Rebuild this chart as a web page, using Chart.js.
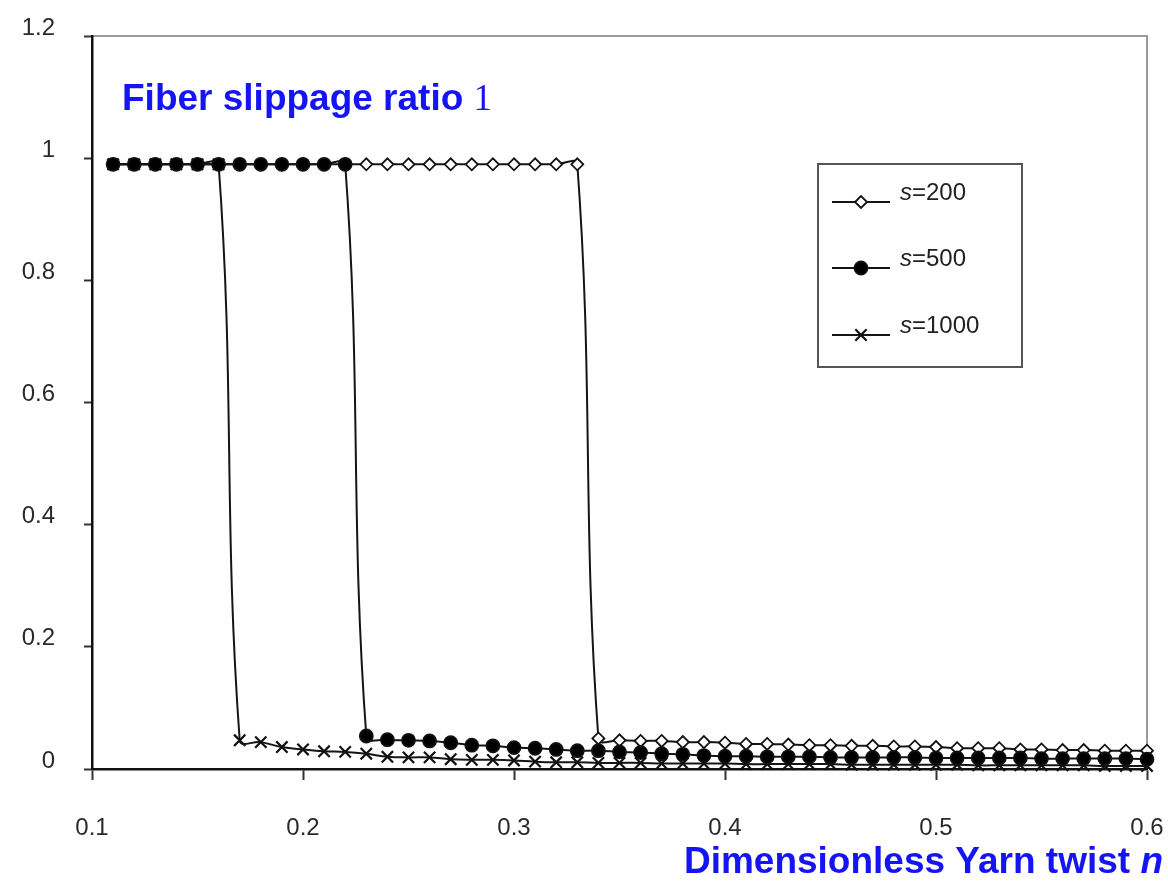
<!DOCTYPE html>
<html>
<head>
<meta charset="utf-8">
<script src="https://cdn.jsdelivr.net/npm/chart.js@4.4.0/dist/chart.umd.min.js"></script>
<style>
  html, body { margin: 0; padding: 0; background: #fff; }
  #wrap { width: 1168px; height: 889px; position: relative; }
</style>
</head>
<body>
<div id="wrap"><canvas id="chart"></canvas></div>
<script>
// ---------- Data ----------
const twist = [
  0.11, 0.12, 0.13, 0.14, 0.15, 0.16, 0.17, 0.18, 0.19, 0.20,
  0.21, 0.22, 0.23, 0.24, 0.25, 0.26, 0.27, 0.28, 0.29, 0.30,
  0.31, 0.32, 0.33, 0.34, 0.35, 0.36, 0.37, 0.38, 0.39, 0.40,
  0.41, 0.42, 0.43, 0.44, 0.45, 0.46, 0.47, 0.48, 0.49, 0.50,
  0.51, 0.52, 0.53, 0.54, 0.55, 0.56, 0.57, 0.58, 0.59, 0.60
];

// s = 200 (open diamonds)
const slip200 = [
  0.99, 0.99, 0.99, 0.99, 0.99, 0.99, 0.99, 0.99, 0.99, 0.99,
  0.99, 0.99, 0.99, 0.99, 0.99, 0.99, 0.99, 0.99, 0.99, 0.99,
  0.99, 0.99, 0.99, 0.050, 0.047, 0.046, 0.046, 0.044, 0.044, 0.043,
  0.041, 0.041, 0.040, 0.039, 0.039, 0.038, 0.038, 0.037, 0.037, 0.036,
  0.034, 0.034, 0.034, 0.032, 0.032, 0.031, 0.031, 0.030, 0.030, 0.030
];

// s = 500 (filled circles)
const slip500 = [
  0.99, 0.99, 0.99, 0.99, 0.99, 0.99, 0.99, 0.99, 0.99, 0.99,
  0.99, 0.99, 0.054, 0.048, 0.047, 0.046, 0.043, 0.039, 0.038, 0.035,
  0.034, 0.032, 0.030, 0.030, 0.028, 0.027, 0.025, 0.024, 0.022, 0.021,
  0.021, 0.020, 0.020, 0.020, 0.019, 0.019, 0.019, 0.019, 0.019, 0.018,
  0.018, 0.018, 0.018, 0.018, 0.017, 0.017, 0.017, 0.017, 0.017, 0.016
];

// s = 1000 (crosses)
const slip1000 = [
  0.99, 0.99, 0.99, 0.99, 0.99, 0.99, 0.047, 0.044, 0.036, 0.032,
  0.029, 0.028, 0.025, 0.020, 0.019, 0.019, 0.016, 0.015, 0.015, 0.014,
  0.012, 0.011, 0.011, 0.010, 0.010, 0.010, 0.009, 0.009, 0.009, 0.009,
  0.008, 0.008, 0.008, 0.008, 0.008, 0.007, 0.007, 0.007, 0.007, 0.007,
  0.007, 0.006, 0.006, 0.006, 0.006, 0.006, 0.006, 0.005, 0.005, 0.005
];

const seriesNames = ['200', '500', '1000'];
const xTicks = [0.1, 0.2, 0.3, 0.4, 0.5, 0.6];
const yTicks = [0, 0.2, 0.4, 0.6, 0.8, 1, 1.2];

const titleText = 'Fiber slippage ratio ';
const titleSymbol = '1';
const xTitleText = 'Dimensionless Yarn twist ';
const xTitleSymbol = 'n';

// ---------- Helpers ----------
const SANS = "'Liberation Sans', Arial, sans-serif";
const SERIF = "'Liberation Serif', 'Times New Roman', serif";
const BLUE = '#1414f5';
const toPoints = (ys) => twist.map((x, i) => ({ x, y: ys[i] }));
const fmtTick = (v) => String(Math.round(v * 10) / 10);

const lineStyle = {
  borderColor: '#151515',
  borderWidth: 2,
  tension: 0.4,
  clip: false,
  pointBorderColor: '#111',
  pointBorderWidth: 1.8
};

const datasets = [
  Object.assign({}, lineStyle, {
    label: 's=' + seriesNames[0],
    data: toPoints(slip200),
    pointStyle: 'rectRot',
    pointRadius: 6,
    pointBackgroundColor: '#fff',
    order: 1
  }),
  Object.assign({}, lineStyle, {
    label: 's=' + seriesNames[1],
    data: toPoints(slip500),
    pointStyle: 'circle',
    pointRadius: 6.5,
    pointBackgroundColor: '#000',
    order: 0
  }),
  Object.assign({}, lineStyle, {
    label: 's=' + seriesNames[2],
    data: toPoints(slip1000),
    pointStyle: 'crossRot',
    pointRadius: 8,
    pointBorderWidth: 2.2,
    pointBackgroundColor: '#111',
    order: 2
  })
];

// ---------- Plugins ----------
// gray frame on top/right, drawn before the axes so black axes stay on top
const framePlugin = {
  id: 'frame',
  beforeDraw(chart) {
    const { ctx, chartArea: a } = chart;
    ctx.save();
    ctx.strokeStyle = '#9a9a9a';
    ctx.lineWidth = 2;
    ctx.strokeRect(a.left, a.top, a.right - a.left, a.bottom - a.top);
    ctx.restore();
  }
};

// titles + boxed legend with line-and-marker samples
const annotatePlugin = {
  id: 'annotate',
  afterDraw(chart) {
    const { ctx, chartArea: a } = chart;
    ctx.save();

    // plot title
    ctx.fillStyle = BLUE;
    ctx.textBaseline = 'alphabetic';
    ctx.textAlign = 'left';
    ctx.font = `bold 37px ${SANS}`;
    const tx = a.left + 30, ty = a.top + 74;
    ctx.fillText(titleText, tx, ty);
    const tw = ctx.measureText(titleText).width;
    ctx.font = `37px ${SERIF}`;
    ctx.fillText(titleSymbol, tx + tw, ty);

    // x-axis title, right aligned
    ctx.font = `italic bold 37px ${SANS}`;
    const nw = ctx.measureText(xTitleSymbol).width;
    const xr = chart.width - 5, xb = chart.height - 16;
    ctx.fillText(xTitleSymbol, xr - nw, xb);
    ctx.font = `bold 37px ${SANS}`;
    ctx.textAlign = 'right';
    ctx.fillText(xTitleText, xr - nw, xb);

    // legend box
    const bx = a.left + 726, by = a.top + 128, bw = 204, bh = 203;
    ctx.fillStyle = '#fff';
    ctx.fillRect(bx, by, bw, bh);
    ctx.strokeStyle = '#555';
    ctx.lineWidth = 2;
    ctx.strokeRect(bx, by, bw, bh);

    const rows = [38, 104, 171];
    chart.data.datasets.forEach((ds, i) => {
      const ly = by + rows[i];
      ctx.strokeStyle = ds.borderColor;
      ctx.lineWidth = ds.borderWidth;
      ctx.beginPath();
      ctx.moveTo(bx + 14, ly);
      ctx.lineTo(bx + 72, ly);
      ctx.stroke();
      ctx.fillStyle = ds.pointBackgroundColor;
      ctx.strokeStyle = ds.pointBorderColor;
      ctx.lineWidth = ds.pointBorderWidth;
      Chart.helpers.drawPoint(ctx, {
        pointStyle: ds.pointStyle,
        radius: ds.pointRadius,
        rotation: 0,
        borderWidth: ds.pointBorderWidth
      }, bx + 43, ly);

      ctx.fillStyle = '#222';
      ctx.textAlign = 'left';
      ctx.textBaseline = 'middle';
      ctx.font = `italic 24px ${SANS}`;
      const sx = bx + 82;
      ctx.fillText('s', sx, ly - 9);
      const sw = ctx.measureText('s').width;
      ctx.font = `24px ${SANS}`;
      ctx.fillText('=' + seriesNames[i], sx + sw, ly - 9);
    });

    ctx.restore();
  }
};

// ---------- Chart ----------
const ctx = document.getElementById('chart').getContext('2d');
new Chart(ctx, {
  type: 'line',
  data: { datasets },
  options: {
    responsive: true,
    maintainAspectRatio: false,
    animation: false,
    layout: { padding: { top: 36, right: 21, left: 0, bottom: 0 } },
    scales: {
      x: {
        type: 'linear',
        min: 0.1,
        max: 0.6,
        afterBuildTicks: (s) => { s.ticks = xTicks.map(v => ({ value: v })); },
        afterFit: (s) => { s.height = 120; s.paddingLeft = 0; s.paddingRight = 0; },
        ticks: {
          color: '#2a2a2a',
          font: { family: SANS, size: 24 },
          padding: 34,
          maxRotation: 0,
          callback: fmtTick
        },
        grid: { drawOnChartArea: false, tickLength: 11, tickColor: '#333', tickWidth: 2 },
        border: { color: '#111', width: 2.5 }
      },
      y: {
        min: 0,
        max: 1.2,
        afterBuildTicks: (s) => { s.ticks = yTicks.map(v => ({ value: v })); },
        afterFit: (s) => { s.width = 92; s.paddingTop = 0; s.paddingBottom = 0; },
        ticks: {
          color: '#2a2a2a',
          font: { family: SANS, size: 24 },
          padding: 29,
          labelOffset: -8,
          callback: fmtTick
        },
        grid: { drawOnChartArea: false, tickLength: 8, tickColor: '#333', tickWidth: 2 },
        border: { color: '#111', width: 2.5 }
      }
    },
    plugins: {
      legend: { display: false },
      tooltip: { enabled: false }
    }
  },
  plugins: [framePlugin, annotatePlugin]
});
</script>
</body>
</html>
